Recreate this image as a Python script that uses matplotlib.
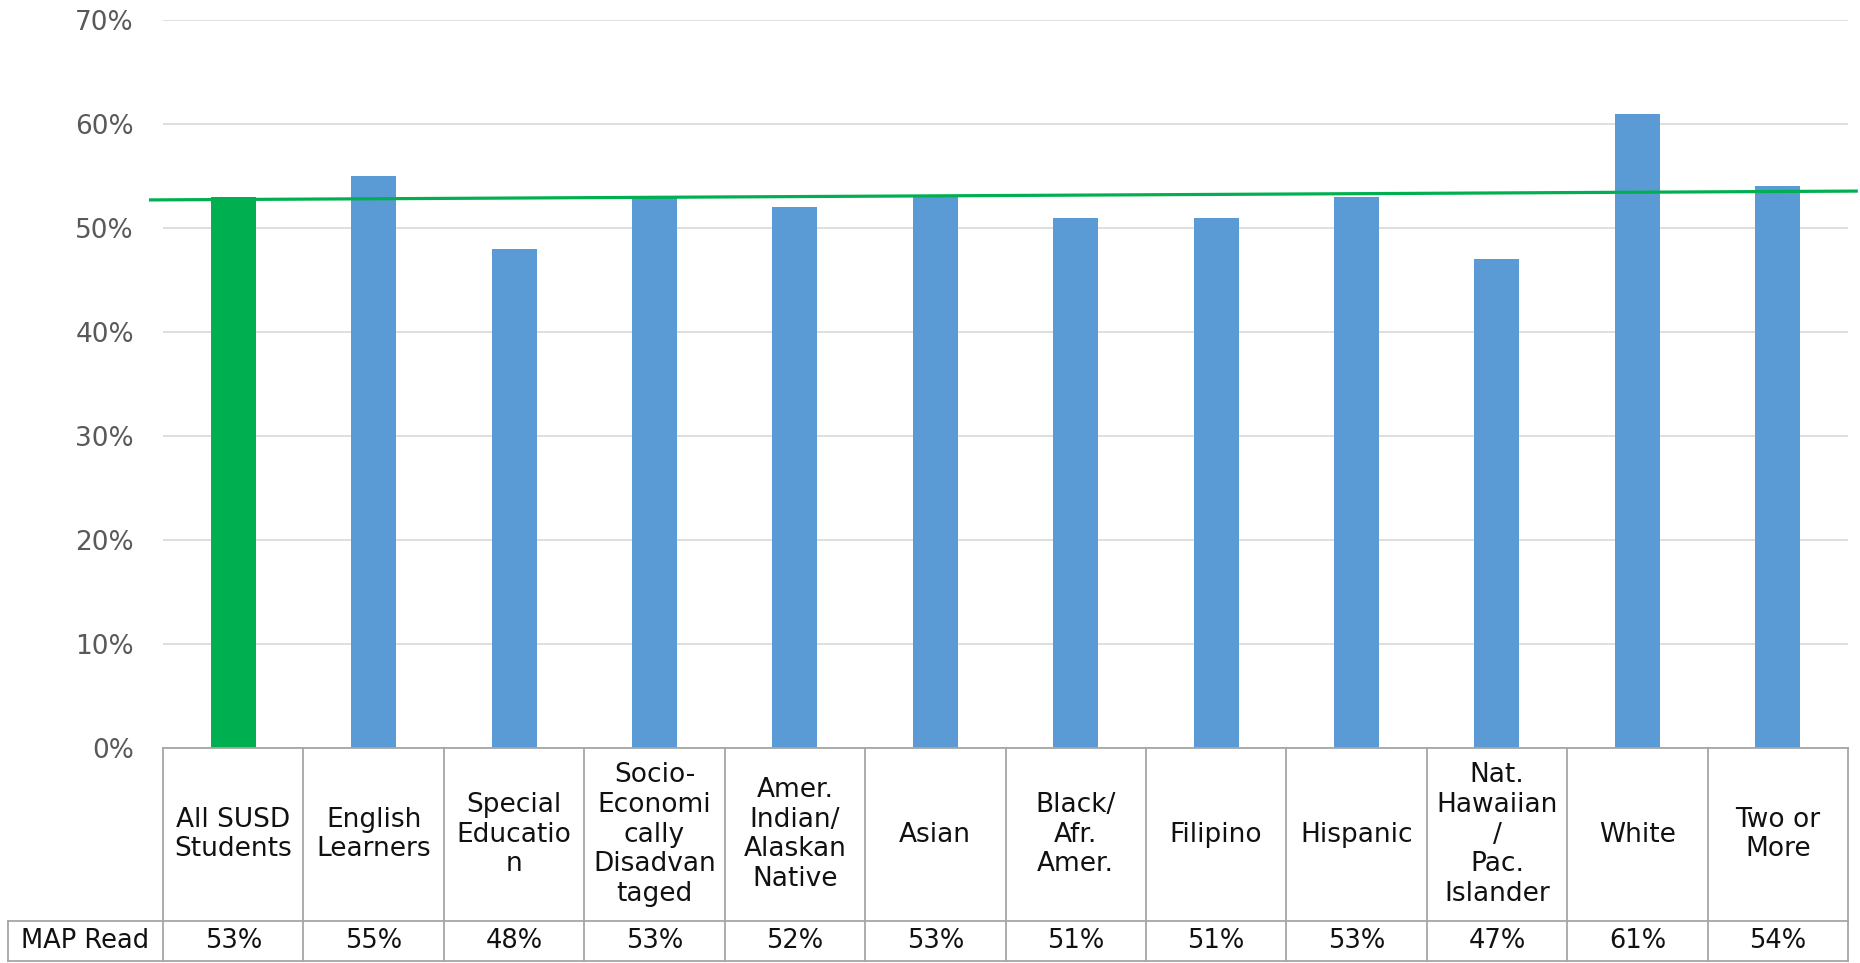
import matplotlib
matplotlib.use("Agg")
import matplotlib.pyplot as plt

# MAP reading results by student group
groups = [
    "All SUSD\nStudents", "English\nLearners", "Special\nEducatio\nn",
    "Socio-\nEconomi\ncally\nDisadvan\ntaged", "Amer.\nIndian/\nAlaskan\nNative",
    "Asian", "Black/\nAfr.\nAmer.", "Filipino", "Hispanic",
    "Nat.\nHawaiian\n/\nPac.\nIslander", "White", "Two or\nMore",
]
map_read = [53, 55, 48, 53, 52, 53, 51, 51, 53, 47, 61, 54]
row_label = "MAP Read"
yticks = [0, 10, 20, 30, 40, 50, 60, 70]

# district reference line (drawn across the chart, slightly tilted)
ref_x = [-0.6, 11.57]
ref_y = [52.7, 53.55]

green = "#00B050"
blue = "#5B9BD5"
border = "#A6A6A6"

W, H = 1860, 963
fig = plt.figure(figsize=(W / 100, H / 100), dpi=100)

# plot area in pixels
left, right, top, bottom = 163, 1848, 20, 748
ax = fig.add_axes([left / W, (H - bottom) / H, (right - left) / W, (bottom - top) / H])

n = len(map_read)
colors = [green] + [blue] * (n - 1)
ax.bar(range(n), map_read, width=0.32, color=colors, zorder=3)

ax.plot(ref_x, ref_y, color=green, lw=2.3, zorder=4, clip_on=False,
        solid_capstyle="butt")

ax.set_xlim(-0.5, n - 0.5)
ax.set_ylim(0, 70)
ax.set_yticks(yticks)
ax.set_yticklabels([f"{v}%" for v in yticks], fontsize=19, color="#595959")
ax.tick_params(axis="y", length=0, pad=21)
ax.set_xticks([])
ax.grid(axis="y", color="#D9D9D9", lw=1.2, zorder=0)
for s in ax.spines.values():
    s.set_visible(False)

# data table below the plot
ph = bottom - top
y_top = 0.0
y_mid = (bottom - 921) / ph
y_bot = (bottom - 961) / ph
x_lab = -0.5 - (left - 8) / ((right - left) / n)
tr = ax.get_xaxis_transform()
kw = dict(transform=tr, color=border, lw=1.3, clip_on=False, zorder=5)

ax.plot([-0.5, n - 0.5], [y_top, y_top], **kw)
ax.plot([x_lab, n - 0.5], [y_mid, y_mid], **kw)
ax.plot([x_lab, n - 0.5], [y_bot, y_bot], **kw)
ax.plot([x_lab, x_lab], [y_mid, y_bot], **kw)
for i in range(n + 1):
    ax.plot([i - 0.5, i - 0.5], [y_top, y_bot], **kw)

txt = dict(transform=tr, ha="center", va="center", color="#111111", clip_on=False)
for i, (g, v) in enumerate(zip(groups, map_read)):
    ax.text(i, (y_top + y_mid) / 2, g, fontsize=19, linespacing=1.18, **txt)
    ax.text(i, (y_mid + y_bot) / 2, f"{v}%", fontsize=18.5, **txt)
ax.text((x_lab - 0.5) / 2, (y_mid + y_bot) / 2, row_label, fontsize=18.5, **txt)

fig.savefig("out.png", dpi=100, facecolor="white")
